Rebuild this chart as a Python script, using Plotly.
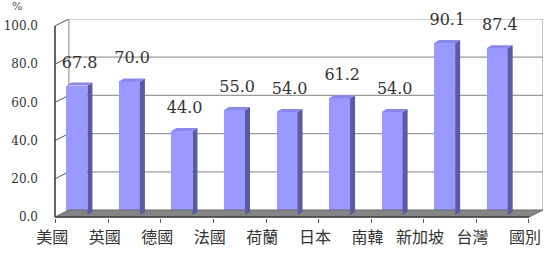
import plotly.graph_objects as go

# ---- data ----
categories = ["美國", "英國", "德國", "法國", "荷蘭", "日本", "南韓", "新加坡", "台灣"]
values = [67.8, 70.0, 44.0, 55.0, 54.0, 61.2, 54.0, 90.1, 87.4]
axis_title = "國別"
y_ticks = [0, 20, 40, 60, 80, 100]
unit_label = "%"

# ---- styling / geometry constants ----
DX, DY = 0.265, 3.66          # wall depth offset (data units)
W, SX, SY, BASE = 0.40, 0.095, 1.57, 1.0   # bar width, side depth, top rise, base
XL_FRONT = -0.417
XR_BACK = 8.872
XL_BACK = XL_FRONT + DX
XR_FRONT = XR_BACK - DX
YMAX = 100

FRONT = "#9999FF"
TOP = "#8888EC"
SIDE = "#5A5AA8"
GRID = "#9a9a9a"

xs = list(range(len(values)))

fig = go.Figure()

# floor
fig.add_trace(go.Scatter(
    x=[XL_FRONT, XR_FRONT, XR_BACK, XL_BACK, XL_FRONT],
    y=[0, 0, DY, DY, 0], mode="lines", fill="toself",
    fillcolor="#858585", line=dict(color="#6a6a6a", width=1),
    hoverinfo="skip", showlegend=False))
# front floor edge
fig.add_trace(go.Scatter(x=[XL_FRONT, XR_FRONT], y=[0, 0], mode="lines",
                         line=dict(color="#444", width=1.5),
                         hoverinfo="skip", showlegend=False))

# bar front faces
fig.add_trace(go.Bar(x=xs, y=values, base=BASE, width=W,
                     marker=dict(color=FRONT, line=dict(width=0)),
                     showlegend=False))

# side faces and top faces built from values
sx, sy, tx, ty = [], [], [], []
for i, v in zip(xs, values):
    r = i + W / 2
    l = i - W / 2
    top = BASE + v
    sx += [r, r + SX, r + SX, r, r, None]
    sy += [BASE, BASE + SY, top + SY, top, BASE, None]
    tx += [l, r, r + SX, l + SX, l, None]
    ty += [top, top, top + SY, top + SY, top, None]
fig.add_trace(go.Scatter(x=sx, y=sy, mode="lines", fill="toself",
                         fillcolor=SIDE, line=dict(width=0, color=SIDE),
                         hoverinfo="skip", showlegend=False))
fig.add_trace(go.Scatter(x=tx, y=ty, mode="lines", fill="toself",
                         fillcolor=TOP, line=dict(width=0, color=TOP),
                         hoverinfo="skip", showlegend=False))

# data labels
fig.add_trace(go.Scatter(
    x=[i + 0.05 for i in xs], y=[BASE + v + 11.5 for v in values],
    mode="text", text=[f"{v:.1f}" for v in values], cliponaxis=False,
    textfont=dict(family="DejaVu Serif", size=16, color="#333"),
    hoverinfo="skip", showlegend=False))

# walls / grid as shapes
shapes = []
for g in y_ticks:
    if g == 0:
        continue
    shapes.append(dict(type="line", xref="x", yref="y", x0=XL_BACK, x1=XR_BACK,
                       y0=g + DY, y1=g + DY, line=dict(color=GRID, width=1.2),
                       layer="below"))
    shapes.append(dict(type="line", xref="x", yref="y", x0=XL_FRONT, x1=XL_BACK,
                       y0=g, y1=g + DY, line=dict(color="#555", width=1),
                       layer="below"))
# back wall vertical edges
for xv in (XL_BACK, XR_BACK):
    shapes.append(dict(type="line", xref="x", yref="y", x0=xv, x1=xv,
                       y0=DY, y1=YMAX + DY, line=dict(color=GRID, width=1.2),
                       layer="below"))
# front axis line
shapes.append(dict(type="line", xref="x", yref="y", x0=XL_FRONT, x1=XL_FRONT,
                   y0=0, y1=YMAX, line=dict(color="#333", width=1.5),
                   layer="below"))

fig.update_layout(
    width=547, height=259,
    margin=dict(l=45, r=4, t=19, b=41),
    paper_bgcolor="white", plot_bgcolor="white",
    shapes=shapes, bargap=0,
    xaxis=dict(range=[-0.569, 8.872], showgrid=False, zeroline=False,
               showline=False,
               tickmode="array",
               tickvals=[i - 0.47 for i in range(len(categories) + 1)],
               ticktext=categories + [axis_title],
               ticks="", ticklabelstandoff=8,
               tickfont=dict(family="Noto Sans CJK TC", size=16, color="#333"),
               minor=dict(tickmode="linear", tick0=-0.4, dtick=1,
                          ticks="outside", ticklen=4, tickcolor="#555",
                          showgrid=False),
               fixedrange=True),
    yaxis=dict(range=[-0.524, 103.66], showgrid=False, zeroline=False,
               showline=False, tickmode="array", tickvals=y_ticks,
               ticktext=[f"{t:.1f}" for t in y_ticks],
               ticks="", ticklabelstandoff=8,
               tickfont=dict(family="DejaVu Serif", size=12, color="#333"),
               fixedrange=True),
    annotations=[dict(text=unit_label, xref="paper", yref="paper",
                      x=-0.06, y=1.065, xanchor="center", yanchor="middle",
                      showarrow=False,
                      font=dict(family="DejaVu Sans", size=11, color="#555"))],
)

fig.write_html("out.html")
